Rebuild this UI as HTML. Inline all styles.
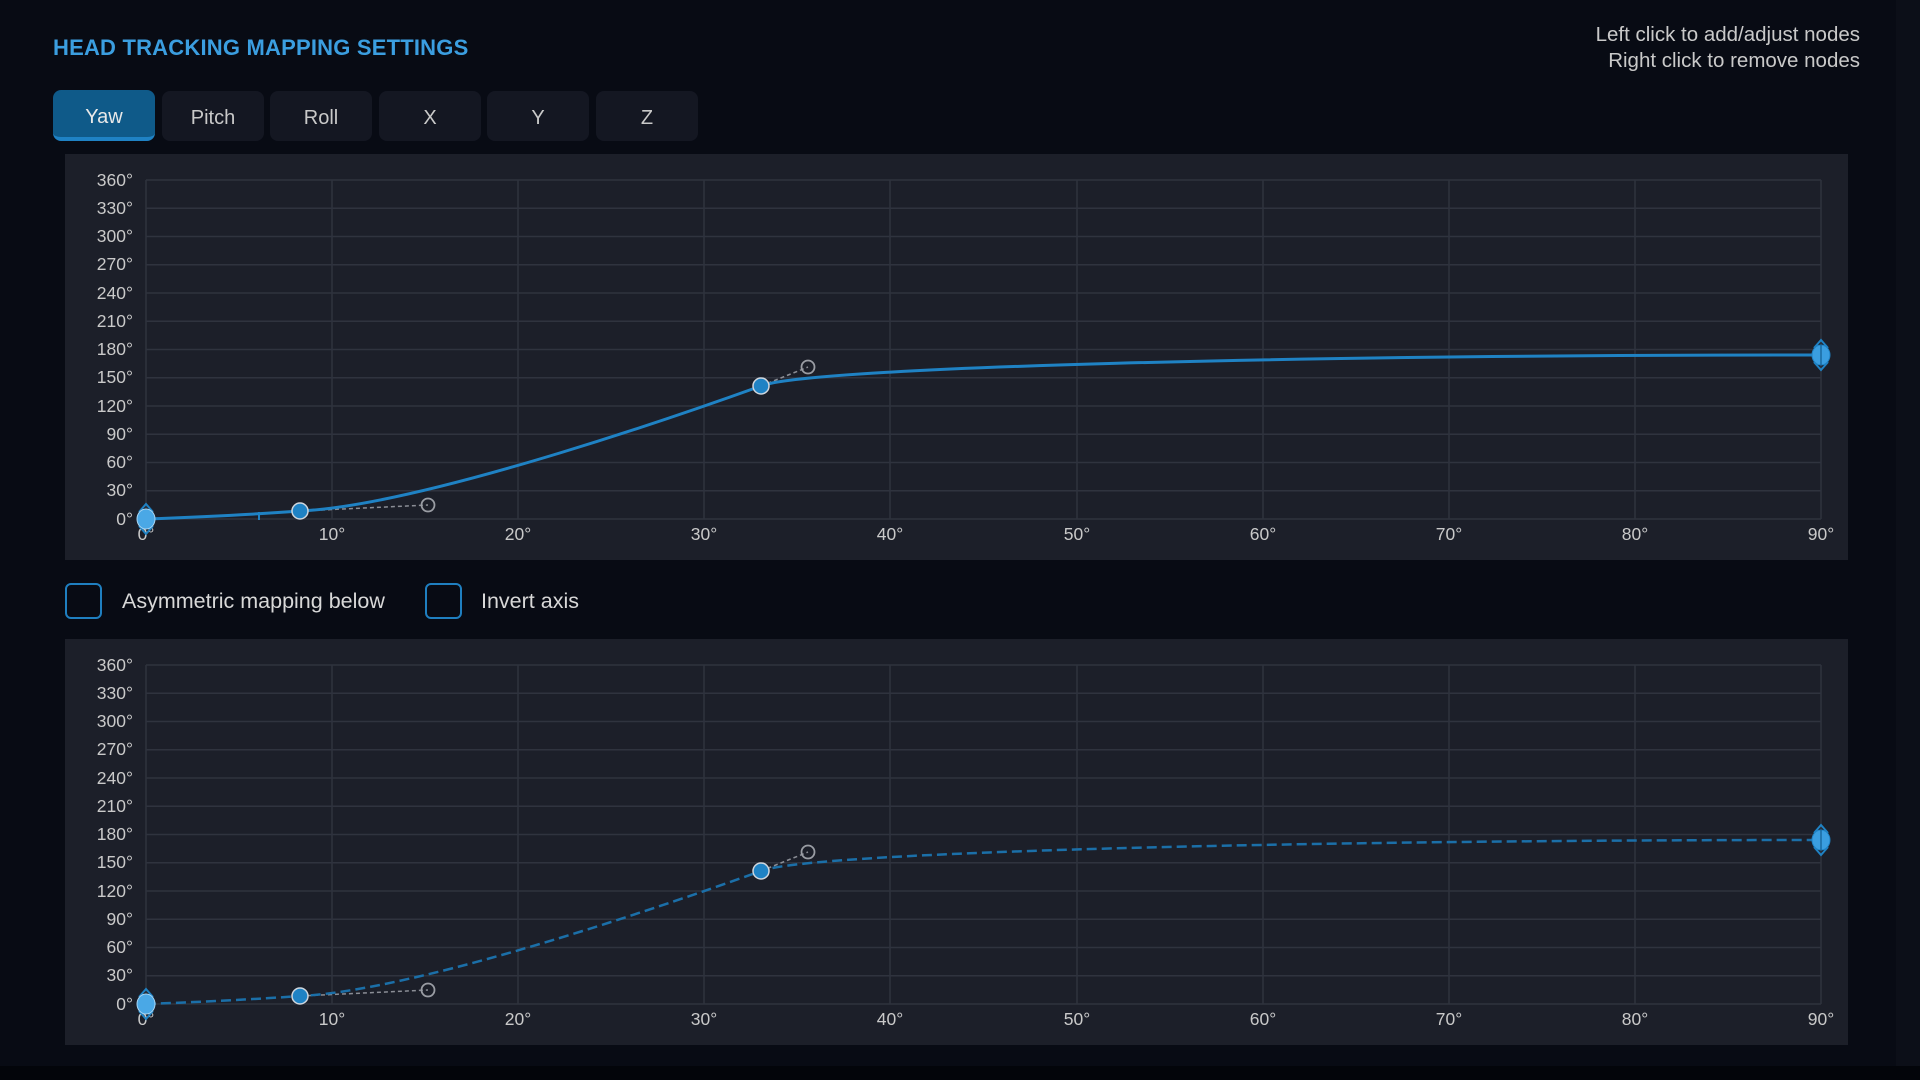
<!DOCTYPE html>
<html><head><meta charset="utf-8"><style>
html,body{margin:0;padding:0;width:1920px;height:1080px;overflow:hidden;background:#080b14;font-family:"Liberation Sans",sans-serif;}
.title{position:absolute;left:53px;top:35px;color:#3b9ee0;font-size:22px;font-weight:bold;letter-spacing:0.2px;}
.hint{position:absolute;right:60px;top:22px;text-align:right;color:#c9c9c9;font-size:20.5px;line-height:26px;}
.tab{position:absolute;top:91px;width:102px;height:50px;background:#141722;border-radius:8px;color:#c9c9c9;font-size:20px;text-align:center;line-height:54px;}
.tab.on{background:#0f5a89;border-bottom:4px solid #1f82c4;height:47px;top:90px;color:#e8e8e8;}
.strip{position:absolute;left:1896px;top:0;width:24px;height:1080px;background:#0c0f18;}
.bottom{position:absolute;left:0;top:1066px;width:1920px;height:14px;background:#03050a;}
.cb{position:absolute;top:583px;width:33px;height:32px;border:2px solid #1f7fc0;border-radius:6px;}
.cbl{position:absolute;top:589px;color:#d8d8d8;font-size:21.5px;}
svg{position:absolute;left:0;top:0;}
</style></head><body>
<div class="strip"></div>
<div class="title">HEAD TRACKING MAPPING SETTINGS</div>
<div class="hint">Left click to add/adjust nodes<br>Right click to remove nodes</div>
<div class="tab on" style="left:53px">Yaw</div>
<div class="tab" style="left:162px">Pitch</div>
<div class="tab" style="left:270px">Roll</div>
<div class="tab" style="left:379px">X</div>
<div class="tab" style="left:487px">Y</div>
<div class="tab" style="left:596px">Z</div>
<div class="cb" style="left:65px"></div><div class="cbl" style="left:122px">Asymmetric mapping below</div>
<div class="cb" style="left:425px"></div><div class="cbl" style="left:481px">Invert axis</div>
<div class="bottom"></div>
<svg width="1920" height="1080" xmlns="http://www.w3.org/2000/svg" font-family="Liberation Sans, sans-serif">
<defs>
<g id="grid">
<rect x="65" y="154" width="1783" height="406" fill="#1c1f29"/>
<g stroke="#2f333e" stroke-width="1.5">
<line x1="146" y1="180" x2="1821" y2="180"/><line x1="146" y1="208.25" x2="1821" y2="208.25"/><line x1="146" y1="236.5" x2="1821" y2="236.5"/><line x1="146" y1="264.75" x2="1821" y2="264.75"/><line x1="146" y1="293" x2="1821" y2="293"/><line x1="146" y1="321.25" x2="1821" y2="321.25"/><line x1="146" y1="349.5" x2="1821" y2="349.5"/><line x1="146" y1="377.75" x2="1821" y2="377.75"/><line x1="146" y1="406" x2="1821" y2="406"/><line x1="146" y1="434.25" x2="1821" y2="434.25"/><line x1="146" y1="462.5" x2="1821" y2="462.5"/><line x1="146" y1="490.75" x2="1821" y2="490.75"/><line x1="146" y1="519" x2="1821" y2="519"/>
<line x1="146" y1="180" x2="146" y2="519"/><line x1="332" y1="180" x2="332" y2="519"/><line x1="518" y1="180" x2="518" y2="519"/><line x1="704" y1="180" x2="704" y2="519"/><line x1="890" y1="180" x2="890" y2="519"/><line x1="1077" y1="180" x2="1077" y2="519"/><line x1="1263" y1="180" x2="1263" y2="519"/><line x1="1449" y1="180" x2="1449" y2="519"/><line x1="1635" y1="180" x2="1635" y2="519"/><line x1="1821" y1="180" x2="1821" y2="519"/>
</g>
<g fill="#c9c9c9" font-size="17.5" text-anchor="end">
<text x="133" y="186">360°</text><text x="133" y="214">330°</text><text x="133" y="242">300°</text><text x="133" y="270">270°</text><text x="133" y="299">240°</text><text x="133" y="327">210°</text><text x="133" y="355">180°</text><text x="133" y="383">150°</text><text x="133" y="412">120°</text><text x="133" y="440">90°</text><text x="133" y="468">60°</text><text x="133" y="496">30°</text><text x="133" y="525">0°</text>
</g>
<g fill="#c9c9c9" font-size="17.5" text-anchor="middle">
<text x="146" y="540">0°</text><text x="332" y="540">10°</text><text x="518" y="540">20°</text><text x="704" y="540">30°</text><text x="890" y="540">40°</text><text x="1077" y="540">50°</text><text x="1263" y="540">60°</text><text x="1449" y="540">70°</text><text x="1635" y="540">80°</text><text x="1821" y="540">90°</text>
</g>
<g stroke="#8a8d95" stroke-width="1.5" stroke-dasharray="4,3" fill="none">
<line x1="300" y1="511" x2="428" y2="505"/><line x1="761" y1="386" x2="808" y2="367"/>
</g>
<circle cx="428" cy="505" r="6.5" fill="none" stroke="#9a9da4" stroke-width="1.8"/>
<circle cx="808" cy="367" r="6.5" fill="none" stroke="#9a9da4" stroke-width="1.8"/>
</g>
<g id="nodes">
<circle cx="300" cy="511" r="8" fill="#1f82c4" stroke="#cfd6de" stroke-width="1.5"/>
<circle cx="761" cy="386" r="8" fill="#1f82c4" stroke="#cfd6de" stroke-width="1.5"/>
<path d="M139 512 L146 504 L153 512 M139 526 L146 534 L153 526" stroke="#1f82c4" stroke-width="2" fill="none"/>
<ellipse cx="146" cy="519" rx="9" ry="10" fill="#4aa8e6" stroke="#a8d4f2" stroke-width="1"/>
<path d="M1814 348 L1821 340 L1828 348 M1814 362 L1821 370 L1828 362" stroke="#1f82c4" stroke-width="2" fill="none"/>
<ellipse cx="1821" cy="355" rx="9" ry="10" fill="#3a9ee0" stroke="#1f82c4" stroke-width="1"/>
<line x1="1821" y1="345" x2="1821" y2="365" stroke="#1b6aa0" stroke-width="1.5"/>
</g>
</defs>
<use href="#grid"/>
<path d="M146 519 C200 517 260 514 300 511 C428 505 711 404 761 386 C808 367 1300 355 1821 355" stroke="#1f82c4" stroke-width="3" fill="none"/>
<line x1="259" y1="512" x2="259" y2="520" stroke="#1f82c4" stroke-width="2"/>
<use href="#nodes"/>
<g transform="translate(0,485)">
<use href="#grid"/>
<path d="M146 519 C200 517 260 514 300 511 C428 505 711 404 761 386 C808 367 1300 355 1821 355" stroke="#1b6fa8" stroke-width="2.5" fill="none" stroke-dasharray="10,5"/>
<use href="#nodes"/>
</g>
</svg>
</body></html>
